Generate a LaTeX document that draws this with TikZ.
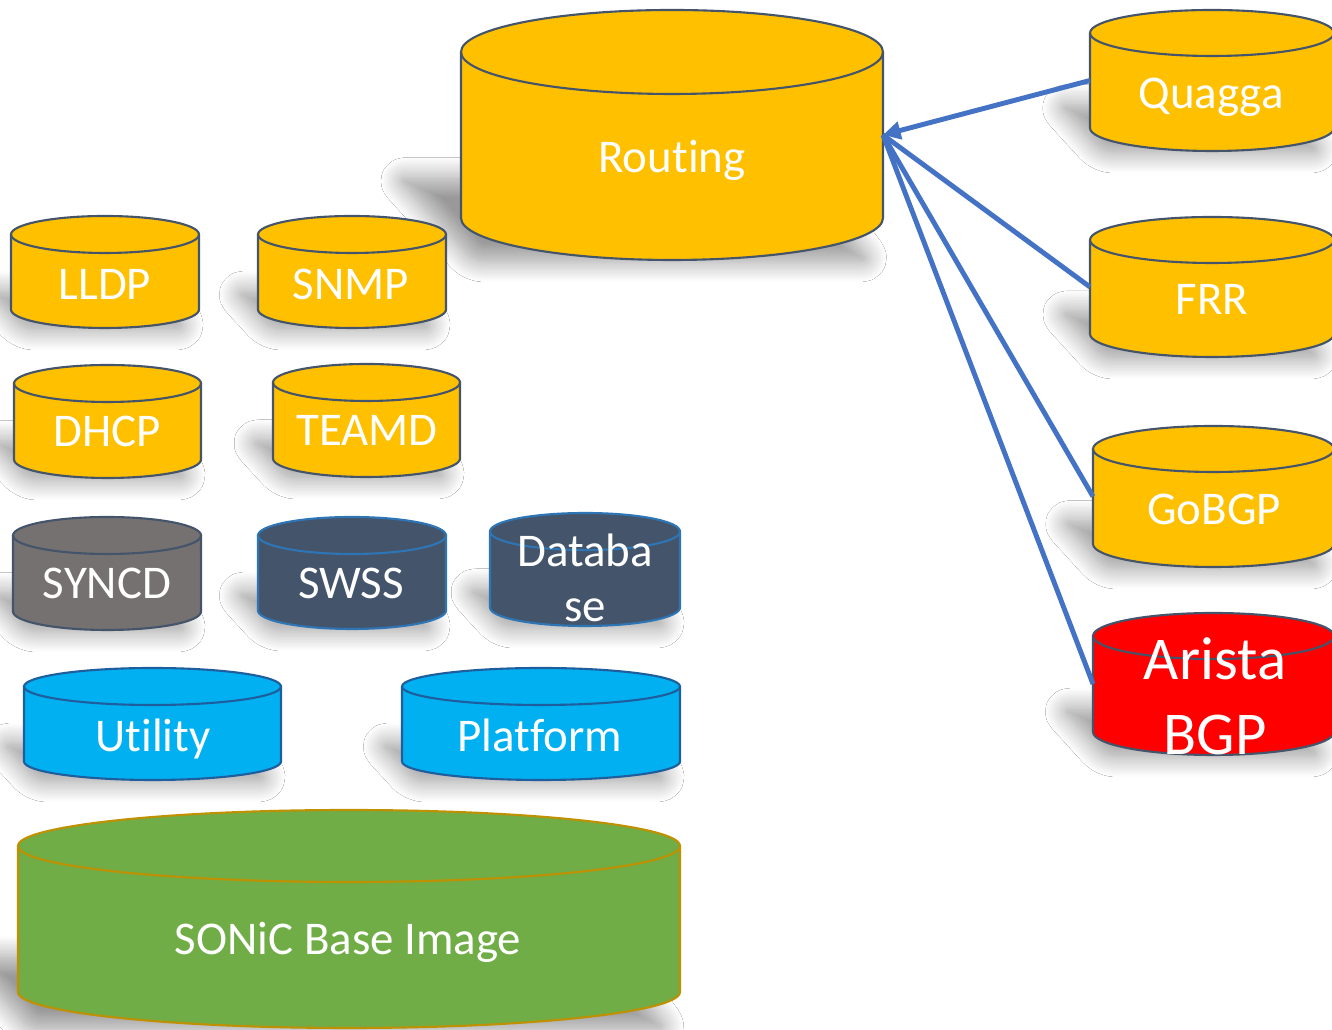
\documentclass[tikz,border=0pt]{standalone}
\usepackage{fontspec}
\setmainfont{Carlito}[Ligatures=NoCommon]
\usetikzlibrary{arrows.meta,shadows.blur}
\definecolor{cylyellow}{HTML}{FFC000}
\definecolor{slate}{HTML}{44546A}
\definecolor{syncgray}{HTML}{767171}
\definecolor{edgeblue}{HTML}{2E75B6}
\definecolor{skyblue}{HTML}{00B0F0}
\definecolor{deepblue}{HTML}{1F5E9E}
\definecolor{leaf}{HTML}{70AD47}
\definecolor{gold}{HTML}{BF9000}
\definecolor{arrowblue}{HTML}{4472C4}
\tikzset{
  cylshadow/.style={blur shadow={shadow xshift=0cm, shadow yshift=0cm, shadow blur radius=0.4cm, shadow blur steps=16, shadow opacity=40}},
  yellowcyl/.style={fill=cylyellow, draw=slate},
  graycyl/.style={fill=syncgray, draw=slate},
  slatecyl/.style={fill=slate, draw=edgeblue},
  skycyl/.style={fill=skyblue, draw=deepblue},
  redcyl/.style={fill=red, draw=slate},
  greencyl/.style={fill=leaf, draw=gold},
  lbl/.style={text=white, anchor=base, inner sep=0pt, font=\fontsize{26.7}{32}\selectfont},
  biglbl/.style={lbl, font=\fontsize{34.6}{40}\selectfont},
  link/.style={draw=arrowblue, line width=2.8pt},
}
% #1 name, #2 left x, #3 right x, #4 top y, #5 bottom y, #6 ellipse y radius, #7 style (pixel coords, y down)
\newcommand\drawcyl[7]{%
  \pgfmathsetmacro\cylrx{(#3-#2)/2}%
  \pgfmathsetmacro\cylcx{(#2+#3)/2}%
  \pgfmathsetmacro\cylyt{1030-#4-#6}%
  \pgfmathsetmacro\cylyb{1030-#5+#6}%
  \pgfmathsetmacro\cylym{(\cylyt+\cylyb)/2}%
  \pgfmathsetmacro\cylw{(#3-#2)*0.02}%
  \pgfmathsetmacro\cylh{(\cylyt-\cylyb)*0.02}%
  % ground shadow, skewed to the lower left
  \pgfmathsetmacro\shh{0.33*(#5-#4)}%
  \pgfmathsetmacro\shs{0.30*(#5-#4)}%
  \pgfmathsetmacro\shb{1030-#5-2}%
  \pgfmathsetmacro\sht{1030-#5+\shh}%
  \path[cylshadow, rounded corners=6] (#2+12,\shb) -- (#3-12,\shb) -- (#3-\shs,\sht) -- (#2-\shs+10,\sht) -- cycle;
  \path[#7, line width=1.2pt] (#2,\cylyt) -- (#2,\cylyb)
    arc[start angle=180, end angle=360, x radius=\cylrx, y radius=#6] -- (#3,\cylyt)
    arc[start angle=0, end angle=180, x radius=\cylrx, y radius=#6] -- cycle;
  \draw[#7, fill=none, line width=1.2pt] (#2,\cylyt) arc[start angle=180, end angle=360, x radius=\cylrx, y radius=#6];
  \node[inner sep=0pt, outer sep=0pt, minimum width=\cylw cm, minimum height=\cylh cm] (#1) at (\cylcx,\cylym) {};
}
\begin{document}
\begin{tikzpicture}[x=0.02cm, y=0.02cm]
\useasboundingbox[fill=white] (0,0) rectangle (1332,1030);

\drawcyl{routing}{461}{883}{10}{260}{42}{yellowcyl}
\drawcyl{quagga}{1090}{1334}{10}{151}{23}{yellowcyl}
\drawcyl{frr}{1090}{1334}{217}{357}{23}{yellowcyl}
\drawcyl{gobgp}{1093}{1334}{426}{567}{23}{yellowcyl}
\drawcyl{arista}{1093}{1334}{613}{755}{23}{redcyl}
\drawcyl{lldp}{11}{199}{216}{328}{18.5}{yellowcyl}
\drawcyl{snmp}{258}{446}{216}{328}{18.5}{yellowcyl}
\drawcyl{dhcp}{14}{201}{365}{478}{18.5}{yellowcyl}
\drawcyl{teamd}{273}{460}{364}{477}{18.5}{yellowcyl}
\drawcyl{syncd}{13}{201}{517}{630}{18.5}{graycyl}
\drawcyl{swss}{258}{446}{517}{629}{18.5}{slatecyl}
\drawcyl{database}{490}{680}{513}{626}{18.5}{slatecyl}
\drawcyl{utility}{24}{281}{668}{780}{18.5}{skycyl}
\drawcyl{platform}{402}{680}{668}{780}{18.5}{skycyl}
\drawcyl{sonic}{18}{680}{810}{1028}{36}{greencyl}

\node[lbl] (routing-t) at (672,857) {Routing};
\node[lbl] (quagga-t) at (1211,921) {Quagga};
\node[lbl] (frr-t) at (1212,715) {FRR};
\node[lbl] (gobgp-t) at (1214,505) {GoBGP};
\node[biglbl] (arista-t1) at (1215,350) {Arista};
\node[biglbl] (arista-t2) at (1215,275) {BGP};
\node[lbl] (lldp-t) at (105,730) {LLDP};
\node[lbl] (snmp-t) at (351,730) {SNMP};
\node[lbl] (dhcp-t) at (107,583) {DHCP};
\node[lbl] (teamd-t) at (367,584) {TEAMD};
\node[lbl] (syncd-t) at (107,431) {SYNCD};
\node[lbl] (swss-t) at (351,431) {SWSS};
\node[lbl] (database-t1) at (585,463) {Databa};
\node[lbl] (database-t2) at (585,408) {se};
\node[lbl] (utility-t) at (153,278) {Utility};
\node[lbl] (platform-t) at (540,278) {Platform};
\node[lbl] (sonic-t) at (348,75) {SONiC Base Image};

\draw[link, -{Triangle[length=10pt, width=10pt]}] (quagga.west) -- (routing.east);
\draw[link] (frr.west) -- (routing.east);
\draw[link] (gobgp.west) -- (routing.east);
\draw[link] (arista.west) -- (routing.east);
\end{tikzpicture}
\end{document}
